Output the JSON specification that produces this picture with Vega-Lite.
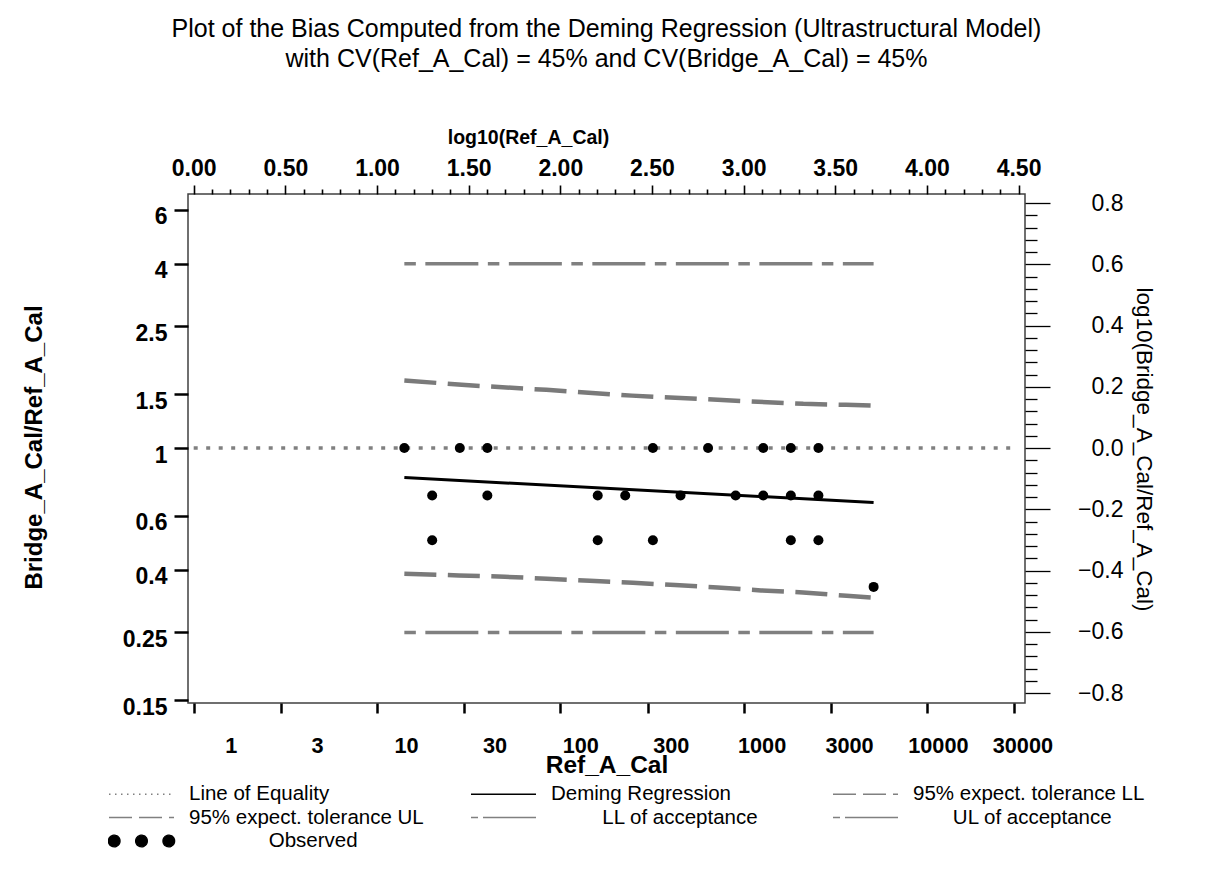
{
  "$schema": "https://vega.github.io/schema/vega-lite/v6.json",
  "width": 837,
  "height": 509,
  "autosize": {"type": "none"},
  "padding": {"left": 188, "top": 194, "right": 180, "bottom": 173},
  "background": "white",
  "title": {
    "text": [
      "Plot of the Bias Computed from the Deming Regression (Ultrastructural Model)",
      "with CV(Ref_A_Cal) = 45% and CV(Bridge_A_Cal) = 45%"
    ],
    "font": "Liberation Sans",
    "fontSize": 25,
    "fontWeight": "normal",
    "color": "black",
    "lineHeight": 30,
    "anchor": "middle",
    "offset": 55
  },
  "config": {
    "font": "Liberation Sans",
    "view": {"stroke": "#404040", "strokeWidth": 1.5},
    "axis": {
      "grid": false,
      "domain": false,
      "labelColor": "black",
      "tickColor": "black",
      "titleColor": "black",
      "labelFont": "Liberation Sans",
      "titleFont": "Liberation Sans",
      "labelOverlap": false,
      "labelFlush": false,
      "labelBound": false
    }
  },
  "layer": [
    {
      "encoding": {
        "x": {
          "field": "Ref",
          "type": "quantitative",
          "scale": {"type": "log", "domain": [0.931, 34290], "nice": false},
          "axis": {
            "orient": "bottom",
            "values": [1, 3, 10, 30, 100, 300, 1000, 3000, 10000, 30000],
            "format": "d",
            "tickSize": 10,
            "tickWidth": 2.5,
            "labelFontSize": 21.7,
            "labelFontWeight": "bold",
            "labelPadding": 22,
            "labelOffset": {"expr": "datum.value == 1 ? 37 : datum.value == 3 ? 36 : datum.value == 10 ? 29 : datum.value == 30 ? 30 : datum.value == 100 ? 20 : datum.value == 300 ? 23 : datum.value == 1000 ? 18 : datum.value == 3000 ? 18 : datum.value == 10000 ? 11 : 8"},
            "title": "Ref_A_Cal",
            "titleFontSize": 24.5,
            "titleFontWeight": "bold",
            "titlePadding": -3
          }
        },
        "y": {
          "field": "ratio",
          "type": "quantitative",
          "scale": {"type": "log", "domain": [0.147, 6.755], "nice": false},
          "axis": {
            "orient": "left",
            "values": [0.15, 0.25, 0.4, 0.6, 1, 1.5, 2.5, 4, 6],
            "format": "~g",
            "tickSize": 14,
            "tickWidth": 2.5,
            "labelFontSize": 23,
            "labelFontWeight": "bold",
            "labelPadding": 7,
            "labelOffset": 7,
            "title": "Bridge_A_Cal/Ref_A_Cal",
            "titleFontSize": 24,
            "titleFontWeight": "bold",
            "titleX": -154,
            "titleY": 253,
            "titleBaseline": "middle"
          }
        }
      },
      "layer": [
        {
          "data": {"values": [{"Ref": 1, "ratio": 1}, {"Ref": 30000, "ratio": 1}]},
          "mark": {"type": "line", "color": "#808080", "strokeWidth": 3.5, "strokeDash": [4, 8.5]}
        },
        {
          "data": {"values": [{"Ref": 14.1, "ratio": 4}, {"Ref": 5120, "ratio": 4}]},
          "mark": {"type": "line", "color": "#808080", "strokeWidth": 3.5, "strokeDash": [11.5, 9.5, 53, 9.5]}
        },
        {
          "data": {"values": [{"Ref": 14.1, "ratio": 0.25}, {"Ref": 5120, "ratio": 0.25}]},
          "mark": {"type": "line", "color": "#808080", "strokeWidth": 3.5, "strokeDash": [11.5, 9.5, 53, 9.5]}
        },
        {
          "data": {"values": [
            {"Ref": 14.1, "ratio": 1.663},
            {"Ref": 29, "ratio": 1.608},
            {"Ref": 84, "ratio": 1.549},
            {"Ref": 246, "ratio": 1.483},
            {"Ref": 722, "ratio": 1.437},
            {"Ref": 2117, "ratio": 1.394},
            {"Ref": 3621, "ratio": 1.384},
            {"Ref": 5120, "ratio": 1.376}
          ]},
          "mark": {"type": "line", "color": "#7a7a7a", "strokeWidth": 4.5, "strokeDash": [32, 11.5]}
        },
        {
          "data": {"values": [
            {"Ref": 14.1, "ratio": 0.3886},
            {"Ref": 28, "ratio": 0.3837},
            {"Ref": 49.9, "ratio": 0.3799},
            {"Ref": 84.6, "ratio": 0.3742},
            {"Ref": 145, "ratio": 0.3685},
            {"Ref": 249, "ratio": 0.3631},
            {"Ref": 423, "ratio": 0.3567},
            {"Ref": 720, "ratio": 0.3504},
            {"Ref": 1245, "ratio": 0.3426},
            {"Ref": 2109, "ratio": 0.3375},
            {"Ref": 3642, "ratio": 0.3292},
            {"Ref": 5120, "ratio": 0.3243}
          ]},
          "mark": {"type": "line", "color": "#7a7a7a", "strokeWidth": 4.5, "strokeDash": [32, 11.5]}
        },
        {
          "data": {"values": [{"Ref": 14.1, "ratio": 0.801}, {"Ref": 5120, "ratio": 0.664}]},
          "mark": {"type": "line", "color": "black", "strokeWidth": 3}
        },
        {
          "data": {"values": [
            {"Ref": 14.1, "ratio": 1}, {"Ref": 28.3, "ratio": 1}, {"Ref": 40, "ratio": 1},
            {"Ref": 320, "ratio": 1}, {"Ref": 640, "ratio": 1}, {"Ref": 1280, "ratio": 1},
            {"Ref": 1810, "ratio": 1}, {"Ref": 2560, "ratio": 1},
            {"Ref": 20, "ratio": 0.7}, {"Ref": 40, "ratio": 0.7}, {"Ref": 160, "ratio": 0.7},
            {"Ref": 226, "ratio": 0.7}, {"Ref": 453, "ratio": 0.7}, {"Ref": 905, "ratio": 0.7},
            {"Ref": 1280, "ratio": 0.7}, {"Ref": 1810, "ratio": 0.7}, {"Ref": 2560, "ratio": 0.7},
            {"Ref": 20, "ratio": 0.5}, {"Ref": 160, "ratio": 0.5}, {"Ref": 320, "ratio": 0.5},
            {"Ref": 1810, "ratio": 0.5}, {"Ref": 2560, "ratio": 0.5},
            {"Ref": 5120, "ratio": 0.352}
          ]},
          "mark": {"type": "circle", "color": "black", "size": 100, "opacity": 1}
        },
        {
          "data": {"values": [
            {"series": "Line of Equality", "Ref": null, "ratio": null},
            {"series": "Deming Regression", "Ref": null, "ratio": null},
            {"series": "95% expect. tolerance LL", "Ref": null, "ratio": null},
            {"series": "95% expect. tolerance UL", "Ref": null, "ratio": null},
            {"series": "LL of acceptance", "Ref": null, "ratio": null},
            {"series": "UL of acceptance", "Ref": null, "ratio": null},
            {"series": "Observed", "Ref": null, "ratio": null}
          ]},
          "mark": {"type": "point", "opacity": 1, "strokeWidth": 1.3},
          "encoding": {
            "shape": {
              "field": "series",
              "type": "nominal",
              "scale": {
                "domain": ["Line of Equality", "Deming Regression", "95% expect. tolerance LL", "95% expect. tolerance UL", "LL of acceptance", "UL of acceptance", "Observed"],
                "range": ["stroke", "stroke", "stroke", "stroke", "stroke", "stroke", "M-1.02,0a0.18,0.18 0 1,0 0.36,0a0.18,0.18 0 1,0 -0.36,0ZM-0.18,0a0.18,0.18 0 1,0 0.36,0a0.18,0.18 0 1,0 -0.36,0ZM0.66,0a0.18,0.18 0 1,0 0.36,0a0.18,0.18 0 1,0 -0.36,0Z"]
              },
              "legend": {
                "title": null,
                "orient": "none",
                "legendX": -80,
                "legendY": 590,
                "padding": 0,
                "columns": 3,
                "direction": "horizontal",
                "gridAlign": "all",
                "columnPadding": 46,
                "rowPadding": 2.5,
                "clipHeight": 20,
                "symbolSize": 4225,
                "symbolStrokeWidth": 1.3,
                "labelOffset": 14,
                "labelFontSize": 20.5,
                "labelColor": "black",
                "labelFont": "Liberation Sans",
                "labelLimit": 400,
                "labelExpr": "datum.label == 'Observed' ? '\u200b\u00a0\u00a0\u00a0\u00a0\u00a0\u00a0\u00a0\u00a0\u00a0\u00a0\u00a0\u00a0\u00a0\u00a0Observed' : datum.label == 'LL of acceptance' ? '\u200b\u00a0\u00a0\u00a0\u00a0\u00a0\u00a0\u00a0\u00a0\u00a0LL of acceptance' : datum.label == 'UL of acceptance' ? '\u200b\u00a0\u00a0\u00a0\u00a0\u00a0\u00a0\u00a0UL of acceptance' : datum.label"
              }
            },
            "stroke": {
              "field": "series",
              "type": "nominal",
              "scale": {
                "domain": ["Line of Equality", "Deming Regression", "95% expect. tolerance LL", "95% expect. tolerance UL", "LL of acceptance", "UL of acceptance", "Observed"],
                "range": ["#808080", "black", "#808080", "#808080", "#808080", "#808080", "black"]
              }
            },
            "fill": {
              "field": "series",
              "type": "nominal",
              "scale": {
                "domain": ["Line of Equality", "Deming Regression", "95% expect. tolerance LL", "95% expect. tolerance UL", "LL of acceptance", "UL of acceptance", "Observed"],
                "range": ["transparent", "transparent", "transparent", "transparent", "transparent", "transparent", "black"]
              }
            },
            "strokeDash": {
              "field": "series",
              "type": "nominal",
              "scale": {
                "domain": ["Line of Equality", "Deming Regression", "95% expect. tolerance LL", "95% expect. tolerance UL", "LL of acceptance", "UL of acceptance", "Observed"],
                "range": [[1.5, 4.5], [1, 0], [23, 7], [23, 7], [7, 5, 60, 5], [7, 5, 60, 5], [1, 0]]
              }
            }
          }
        }
      ]
    },
    {
      "data": {"values": [{"logRef": null, "logRatio": null}]},
      "mark": {"type": "point", "opacity": 0},
      "encoding": {
        "x": {
          "field": "logRef",
          "type": "quantitative",
          "scale": {"domain": [-0.0311, 4.5352], "nice": false, "zero": false},
          "axis": {
            "orient": "top",
            "values": [0, 0.1, 0.2, 0.3, 0.4, 0.5, 0.6, 0.7, 0.8, 0.9, 1, 1.1, 1.2, 1.3, 1.4, 1.5, 1.6, 1.7, 1.8, 1.9, 2, 2.1, 2.2, 2.3, 2.4, 2.5, 2.6, 2.7, 2.8, 2.9, 3, 3.1, 3.2, 3.3, 3.4, 3.5, 3.6, 3.7, 3.8, 3.9, 4, 4.1, 4.2, 4.3, 4.4, 4.5],
            "labelExpr": "abs(datum.value * 2 - round(datum.value * 2)) < 0.001 ? format(datum.value, '.2f') : ''",
            "tickSize": {"condition": {"test": "abs(datum.value * 2 - round(datum.value * 2)) < 0.001", "value": 9}, "value": 5},
            "tickWidth": 1.6,
            "labelFontSize": 23,
            "labelFontWeight": "bold",
            "labelPadding": 5,
            "title": "log10(Ref_A_Cal)",
            "titleFontSize": 19.5,
            "titleFontWeight": "bold",
            "titlePadding": 10,
            "titleX": 340
          }
        },
        "y": {
          "field": "logRatio",
          "type": "quantitative",
          "scale": {"domain": [-0.8326, 0.8296], "nice": false, "zero": false},
          "axis": {
            "orient": "right",
            "values": [-0.8, -0.76, -0.72, -0.68, -0.64, -0.6, -0.56, -0.52, -0.48, -0.44, -0.4, -0.36, -0.32, -0.28, -0.24, -0.2, -0.16, -0.12, -0.08, -0.04, 0, 0.04, 0.08, 0.12, 0.16, 0.2, 0.24, 0.28, 0.32, 0.36, 0.4, 0.44, 0.48, 0.52, 0.56, 0.6, 0.64, 0.68, 0.72, 0.76, 0.8],
            "labelExpr": "abs(datum.value * 5 - round(datum.value * 5)) < 0.001 ? format(datum.value, '.1f') : ''",
            "tickSize": {"condition": {"test": "abs(datum.value * 5 - round(datum.value * 5)) < 0.001", "value": 25}, "value": 12},
            "tickWidth": 1.3,
            "labelFontSize": 23,
            "labelAlign": "right",
            "labelPadding": 73,
            "title": "log10(Bridge_A_Cal/Ref_A_Cal)",
            "titleFontSize": 22.5,
            "titleFontWeight": "normal",
            "titleAngle": 90,
            "titleX": 118,
            "titleY": 255,
            "titleBaseline": "middle"
          }
        }
      }
    }
  ],
  "resolve": {"scale": {"x": "independent", "y": "independent"}}
}
